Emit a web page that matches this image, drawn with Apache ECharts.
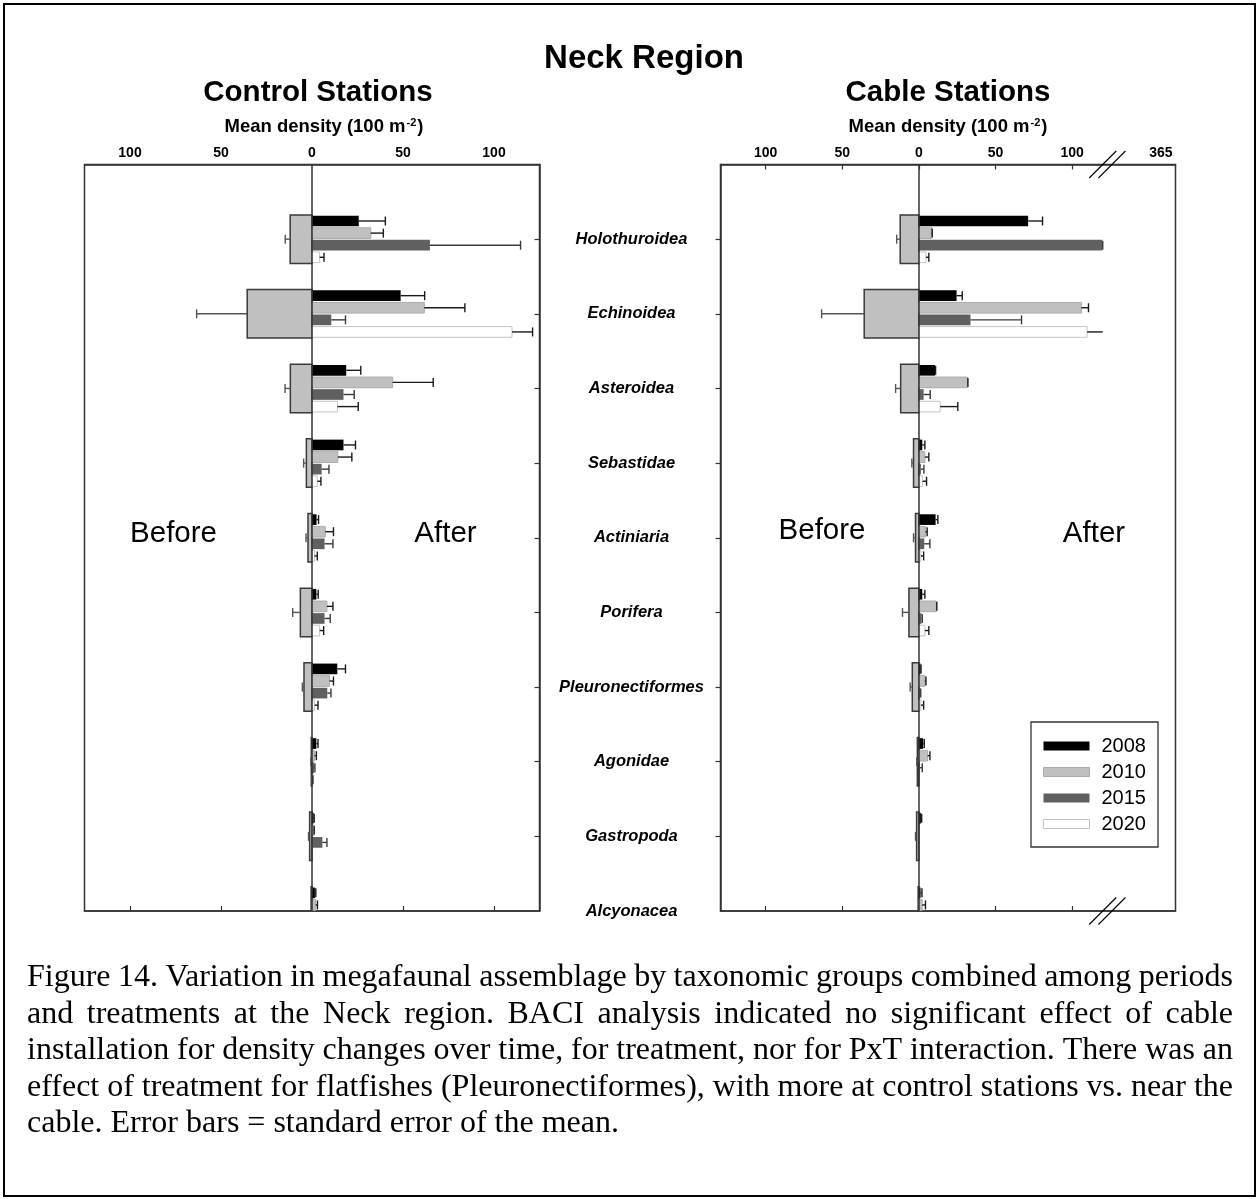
<!DOCTYPE html>
<html>
<head>
<meta charset="utf-8">
<title>Neck Region – megafaunal density</title>
<script src="https://cdn.jsdelivr.net/npm/echarts@6/dist/echarts.min.js"></script>
<style>
  html, body { margin: 0; padding: 0; background: #ffffff; }
  #chart { width: 1258px; height: 1199px; }
</style>
</head>
<body>
<div id="chart"></div>
<script>
// ---------------------------------------------------------------
// Data: mean density (per 100 m^2) and standard error, by taxon
// ---------------------------------------------------------------
const categories = ['Holothuroidea', 'Echinoidea', 'Asteroidea', 'Sebastidae', 'Actiniaria',
  'Porifera', 'Pleuronectiformes', 'Agonidae', 'Gastropoda', 'Alcyonacea'];
const yearNames = ['2008', '2010', '2015', '2020'];

// Control stations
const controlBefore   = [12.0, 35.6, 11.9, 3.1, 2.2, 6.4, 4.4, 0.4, 1.3, 0.5];
const controlBeforeSE = [2.7, 27.8, 2.9, 1.5, 1.1, 4.2, 0.9, 0.2, 0.6, 0.2];
const control2008     = [25.7, 48.7, 18.8, 17.3, 2.5, 2.4, 13.9, 2.4, 0.9, 1.6];
const control2008SE   = [14.6, 13.2, 8.0, 6.6, 1.1, 1.0, 4.5, 0.9, 0.3, 0.5];
const control2010     = [32.3, 61.7, 44.3, 14.2, 7.3, 8.2, 9.6, 1.4, 0.9, 2.0];
const control2010SE   = [6.9, 22.3, 22.3, 7.7, 4.5, 3.3, 2.2, 1.0, 0.3, 1.0];
const control2015     = [64.8, 10.6, 17.3, 5.3, 6.9, 6.9, 8.4, 1.2, 5.7, 0];
const control2015SE   = [49.8, 7.8, 5.9, 4.0, 4.6, 3.1, 2.0, 0.4, 2.5, 0];
const control2020     = [4.2, 109.9, 14.0, 2.9, 1.4, 4.2, 1.4, 0.3, 0, 0];
const control2020SE   = [2.4, 11.3, 11.4, 2.0, 1.5, 2.2, 1.9, 0.2, 0, 0];

// Cable stations
const cableBefore   = [12.2, 35.7, 11.9, 3.5, 2.2, 6.5, 4.3, 1.0, 1.5, 0.5];
const cableBeforeSE = [2.3, 27.8, 3.3, 1.1, 1.3, 4.2, 1.4, 0.4, 0.7, 0.3];
const cable2008     = [71.3, 24.6, 10.6, 2.2, 10.9, 2.2, 1.1, 2.8, 1.3, 1.1];
const cable2008SE   = [9.4, 3.7, 0.3, 1.7, 1.5, 1.7, 0.3, 0.7, 0.5, 0.9];
const cable2010     = [8.3, 106.1, 31.7, 3.9, 4.3, 11.3, 3.9, 5.7, 0, 2.2];
const cable2010SE   = [0.4, 4.6, 0.3, 2.6, 1.1, 0.4, 0.7, 1.5, 0, 2.1];
const cable2015     = [119.6, 33.7, 3.1, 1.3, 3.5, 1.7, 0.9, 0.7, 0, 0];
const cable2015SE   = [0.4, 33.3, 4.3, 2.0, 3.7, 0.5, 0.3, 1.5, 0, 0];
const cable2020     = [4.6, 109.8, 13.9, 2.4, 1.3, 3.9, 1.3, 0, 0, 0];
const cable2020SE   = [1.9, 12.0, 11.5, 2.6, 1.8, 2.6, 1.8, 0, 0, 0];

// Axis ticks and labels
const densityTicks = [-100, -50, 0, 50, 100];
const controlLabelValues = [-100, -50, 0, 50, 100];
const controlLabelTexts = ['100', '50', '0', '50', '100'];
const cableLabelValues = [-100, -50, 0, 50, 100, 158];
const cableLabelTexts = ['100', '50', '0', '50', '100', '365'];
const cableBreakAt = 120;          // values beyond this run into the axis break
const cableBreakMarks = [120, 126]; // the double slash on the cable axis
const categoryTicks = [0, 1, 2, 3, 4, 5, 6, 7, 8];
const categoryLabelValues = [0, 1, 2, 3, 4, 5, 6, 7, 8, 9];

const captionLines = [
  'Figure 14. Variation in megafaunal assemblage by taxonomic groups combined among periods',
  'and treatments at the Neck region. BACI analysis indicated no significant effect of cable',
  'installation for density changes over time, for treatment, nor for PxT interaction. There was an',
  'effect of treatment for flatfishes (Pleuronectiformes), with more at control stations vs. near the',
  'cable. Error bars = standard error of the mean.'
];

// ---------------------------------------------------------------
// Styling
// ---------------------------------------------------------------
const SANS = "'Liberation Sans', Arial, sans-serif";
const SERIF = "'Liberation Serif', 'Times New Roman', serif";
const FRAME = '#333333';
const yearStyles = [
  { fill: '#000000', stroke: null, err: '#1a1a1a' },
  { fill: '#c0c0c0', stroke: '#ababab', err: '#1a1a1a' },
  { fill: '#606060', stroke: null, err: '#3a3a3a' },
  { fill: '#ffffff', stroke: '#c4c4c4', err: '#1a1a1a' }
];
const yearOffsets = [-0.243, -0.081, 0.081, 0.243];
const yearBarHeight = 0.143;
const beforeHalf = 0.325;

function rows(means, ses) {
  return means.map((m, i) => [i, m, ses[i]]);
}

// Horizontal bar with an error whisker, drawn in axis coordinates.
function makeBarRenderer(offset, height, sign, fill, stroke, strokeWidth, errColor, limit) {
  return function (params, api) {
    const cat = api.value(0);
    const mean = api.value(1);
    const se = api.value(2);
    const cs = params.coordSys;
    const children = [];
    const a = api.coord([0, cat + offset - height / 2]);
    const b = api.coord([sign * mean, cat + offset + height / 2]);
    if (mean > 0) {
      const rect = echarts.graphic.clipRectByRect({
        x: Math.min(a[0], b[0]),
        y: Math.min(a[1], b[1]),
        width: Math.abs(b[0] - a[0]),
        height: Math.abs(b[1] - a[1])
      }, cs);
      if (rect && rect.height > 0) {
        children.push({
          type: 'rect',
          shape: rect,
          style: { fill: fill, stroke: stroke || null, lineWidth: stroke ? strokeWidth : 0 }
        });
      }
    }
    if (se > 0) {
      const top = mean + se;
      const end = Math.min(top, limit);
      const p0 = api.coord([sign * mean, cat + offset]);
      const p1 = api.coord([sign * end, cat + offset]);
      if (p0[1] <= cs.y + cs.height - 1) {
        children.push({
          type: 'line',
          shape: { x1: p0[0], y1: p0[1], x2: p1[0], y2: p1[1] },
          style: { stroke: errColor, lineWidth: 1.4 }
        });
        if (top <= limit) {
          children.push({
            type: 'line',
            shape: { x1: p1[0], y1: p1[1] - 4.5, x2: p1[0], y2: p1[1] + 4.5 },
            style: { stroke: errColor, lineWidth: 1.4 }
          });
        }
      }
    }
    return { type: 'group', children: children };
  };
}

function panelSeries(xAxisIndex, yAxisIndex, before, beforeSE, years, yearSEs, limit) {
  const list = [];
  list.push({
    type: 'custom',
    name: 'Before',
    xAxisIndex: xAxisIndex,
    yAxisIndex: yAxisIndex,
    encode: { x: 1, y: 0 },
    itemStyle: { color: '#c0c0c0' },
    data: rows(before, beforeSE),
    renderItem: makeBarRenderer(0, beforeHalf * 2, -1, '#c0c0c0', '#3a3a3a', 1.5, '#555555', Infinity),
    markLine: {
      silent: true,
      symbol: 'none',
      label: { show: false },
      lineStyle: { color: FRAME, width: 1.5, type: 'solid' },
      data: [{ xAxis: 0 }],
      animation: false
    },
    z: 2
  });
  years.forEach((vals, k) => {
    const s = yearStyles[k];
    list.push({
      type: 'custom',
      name: yearNames[k],
      xAxisIndex: xAxisIndex,
      yAxisIndex: yAxisIndex,
      encode: { x: 1, y: 0 },
      itemStyle: { color: s.fill },
      data: rows(vals, yearSEs[k]),
      renderItem: makeBarRenderer(yearOffsets[k], yearBarHeight, 1, s.fill, s.stroke, 1, s.err, limit),
      z: 3
    });
  });
  return list;
}

function topAxis(gridIndex, min, max, ticks, labelValues, labelTexts, showTicks) {
  return {
    gridIndex: gridIndex,
    type: 'value',
    position: 'top',
    min: min,
    max: max,
    axisLine: { show: true, onZero: false, lineStyle: { color: FRAME, width: 1.5 } },
    axisTick: { show: showTicks, inside: true, length: 5, customValues: ticks,
      lineStyle: { color: FRAME, width: 1.2 } },
    axisLabel: {
      customValues: labelValues,
      formatter: v => labelTexts[labelValues.indexOf(v)],
      color: '#000', fontFamily: SANS, fontWeight: 'bold', fontSize: 14, margin: 4
    },
    splitLine: { show: false }
  };
}

function bottomAxis(gridIndex, min, max, ticks) {
  return {
    gridIndex: gridIndex,
    type: 'value',
    position: 'bottom',
    min: min,
    max: max,
    axisLine: { show: true, onZero: false, lineStyle: { color: FRAME, width: 1.5 } },
    axisTick: { show: true, inside: true, length: 5, customValues: ticks,
      lineStyle: { color: FRAME, width: 1.2 } },
    axisLabel: { show: false },
    splitLine: { show: false }
  };
}

// ---------------------------------------------------------------
// Caption set as justified lines of words
// ---------------------------------------------------------------
const captionFontSize = 32;
const captionLeft = 27;
const captionRight = 1233;
const captionTop = 978;
const captionGap = 36.4;

function captionElements() {
  const ctx = document.createElement('canvas').getContext('2d');
  ctx.font = captionFontSize + 'px ' + SERIF;
  const out = [];
  captionLines.forEach((line, i) => {
    const words = line.split(' ');
    const widths = words.map(w => ctx.measureText(w).width);
    const total = widths.reduce((s, w) => s + w, 0);
    const last = i === captionLines.length - 1;
    const space = last ? ctx.measureText(' ').width
      : (captionRight - captionLeft - total) / (words.length - 1);
    let x = captionLeft;
    words.forEach((w, k) => {
      out.push({
        type: 'text',
        x: x,
        y: captionTop + i * captionGap,
        style: {
          text: w, fill: '#000', fontFamily: SERIF, fontSize: captionFontSize,
          textAlign: 'left', textVerticalAlign: 'middle'
        }
      });
      x += widths[k] + space;
    });
  });
  return out;
}

function label(text, x, y, size, weight) {
  return {
    type: 'text', x: x, y: y,
    style: {
      text: text, fill: '#000', fontFamily: SANS, fontSize: size, fontWeight: weight || 'normal',
      textAlign: 'center', textVerticalAlign: 'middle'
    }
  };
}

function densityTitle(x, y) {
  return {
    type: 'text', x: x, y: y,
    style: {
      text: '{a|Mean density (100 m}{s|-2}{a|)}',
      textAlign: 'center', textVerticalAlign: 'middle',
      rich: {
        a: { fontFamily: SANS, fontSize: 18.5, fontWeight: 'bold', fill: '#000' },
        s: { fontFamily: SANS, fontSize: 11, fontWeight: 'bold', fill: '#000',
             verticalAlign: 'top', padding: [0, 1, 8, 1] }
      }
    }
  };
}

function categoryAxis(gridIndex, position, inside, showLabels) {
  return {
    gridIndex: gridIndex, type: 'value', inverse: true, min: -1, max: 9, position: position,
    axisLine: { show: true, onZero: false, lineStyle: { color: FRAME, width: 1.5 } },
    axisTick: { show: true, inside: inside, length: 5, customValues: categoryTicks,
      lineStyle: { color: FRAME, width: 1.2 } },
    axisLabel: showLabels ? {
      customValues: categoryLabelValues,
      formatter: v => categories[v],
      align: 'center',
      margin: 89,
      color: '#000', fontFamily: SANS, fontSize: 16.5, fontWeight: 'bold', fontStyle: 'italic'
    } : { show: false },
    splitLine: { show: false }
  };
}

// ---------------------------------------------------------------
// Chart
// ---------------------------------------------------------------
const chart = echarts.init(document.getElementById('chart'), null, { renderer: 'canvas' });

const option = {
  animation: false,
  backgroundColor: '#ffffff',
  grid: [
    { left: 84.5, top: 164.5, width: 455, height: 746.5, show: true,
      borderColor: FRAME, borderWidth: 1.5, backgroundColor: 'transparent', containLabel: false },
    { left: 720.5, top: 164.5, width: 455, height: 746.5, show: true,
      borderColor: FRAME, borderWidth: 1.5, backgroundColor: 'transparent', containLabel: false }
  ],
  xAxis: [
    topAxis(0, -125, 125, densityTicks, controlLabelValues, controlLabelTexts, false),
    bottomAxis(0, -125, 125, densityTicks),
    topAxis(1, -129.5, 167.5, densityTicks, cableLabelValues, cableLabelTexts, true),
    bottomAxis(1, -129.5, 167.5, densityTicks)
  ],
  yAxis: [
    categoryAxis(0, 'right', true, false),
    categoryAxis(1, 'left', false, true)
  ],
  legend: {
    orient: 'vertical',
    left: 1031,
    top: 722,
    padding: [14, 12, 13, 12],
    borderColor: FRAME,
    borderWidth: 1.3,
    backgroundColor: '#ffffff',
    itemWidth: 46,
    itemHeight: 9,
    itemGap: 6,
    icon: 'rect',
    selectedMode: false,
    textStyle: { color: '#000', fontFamily: SANS, fontSize: 20, padding: [0, 0, 0, 7] },
    data: yearNames.map((n, k) => ({
      name: n,
      itemStyle: {
        color: yearStyles[k].fill,
        borderColor: yearStyles[k].stroke || yearStyles[k].fill,
        borderWidth: yearStyles[k].stroke ? 1 : 0
      }
    }))
  },
  series: [
    ...panelSeries(0, 0, controlBefore, controlBeforeSE,
      [control2008, control2010, control2015, control2020],
      [control2008SE, control2010SE, control2015SE, control2020SE], Infinity),
    ...panelSeries(2, 1, cableBefore, cableBeforeSE,
      [cable2008, cable2010, cable2015, cable2020],
      [cable2008SE, cable2010SE, cable2015SE, cable2020SE], cableBreakAt),
    {
      type: 'custom',
      name: 'axis break',
      xAxisIndex: 2,
      yAxisIndex: 1,
      encode: { x: 0, y: 1 },
      silent: true,
      data: cableBreakMarks.map(v => [v, 0]),
      renderItem: function (params, api) {
        const v = api.value(0);
        const top = api.coord([v, -1]);
        const bot = api.coord([v, 9]);
        const d = 13.5;
        const st = { stroke: '#000', lineWidth: 1.1 };
        return {
          type: 'group',
          children: [
            { type: 'line', shape: { x1: top[0] - d, y1: top[1] + d, x2: top[0] + d, y2: top[1] - d }, style: st },
            { type: 'line', shape: { x1: bot[0] - d, y1: bot[1] + d, x2: bot[0] + d, y2: bot[1] - d }, style: st }
          ]
        };
      },
      z: 5
    }
  ],
  graphic: [
    {
      type: 'rect',
      shape: { x: 4, y: 4, width: 1251, height: 1192 },
      style: { fill: null, stroke: '#000', lineWidth: 2 },
      silent: true
    },
    label('Neck Region', 644, 59, 33, 'bold'),
    label('Control Stations', 318, 93, 29.5, 'bold'),
    label('Cable Stations', 948, 93, 29.5, 'bold'),
    densityTitle(324, 126.5),
    densityTitle(948, 126.5),
    label('Before', 173.5, 534, 29.5),
    label('After', 445.5, 534, 29.5),
    label('Before', 822, 531, 29.5),
    label('After', 1094, 534, 29.5),
    ...captionElements()
  ]
};

chart.setOption(option);
</script>
</body>
</html>
